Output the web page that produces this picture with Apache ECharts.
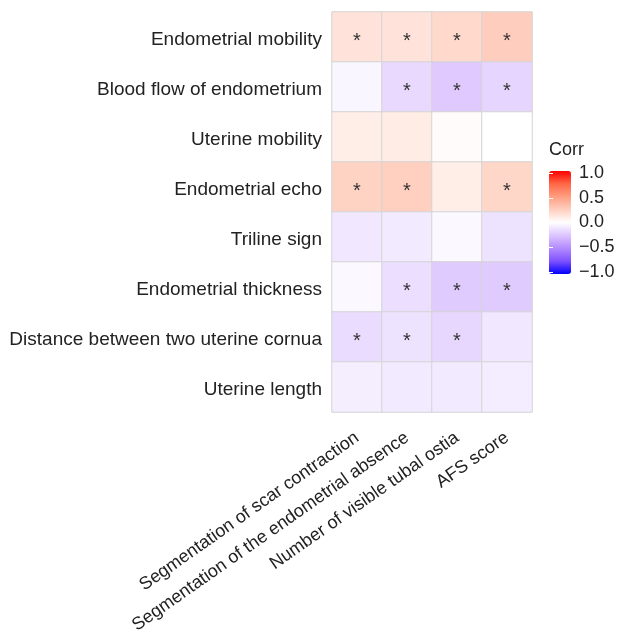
<!DOCTYPE html>
<html>
<head>
<meta charset="utf-8">
<script src="https://cdn.jsdelivr.net/npm/echarts@6/dist/echarts.min.js"></script>
<style>
  html, body { margin: 0; padding: 0; background: #fff; }
  #chart { width: 618px; height: 637px; }
</style>
</head>
<body>
<div id="chart"></div>
<script>
// columns (x axis) and rows (y axis, top to bottom)
var xCategories = [
  "Segmentation of scar contraction",
  "Segmentation of the endometrial absence",
  "Number of visible tubal ostia",
  "AFS score"
];
var yCategories = [
  "Endometrial mobility",
  "Blood flow of endometrium",
  "Uterine mobility",
  "Endometrial echo",
  "Triline sign",
  "Endometrial thickness",
  "Distance between two uterine cornua",
  "Uterine length"
];

// correlation values per row
var corrMobility   = [0.15, 0.15, 0.20, 0.26];
var corrBloodFlow  = [-0.04, -0.16, -0.23, -0.18];
var corrUterMob    = [0.09, 0.10, 0.02, 0.00];
var corrEcho       = [0.23, 0.25, 0.09, 0.21];
var corrTriline    = [-0.10, -0.09, -0.03, -0.12];
var corrThickness  = [-0.03, -0.14, -0.22, -0.22];
var corrCornua     = [-0.15, -0.12, -0.17, -0.10];
var corrLength     = [-0.07, -0.09, -0.09, -0.08];

// significance stars per row (1 = *)
var sigMobility   = [1, 1, 1, 1];
var sigBloodFlow  = [0, 1, 1, 1];
var sigUterMob    = [0, 0, 0, 0];
var sigEcho       = [1, 1, 0, 1];
var sigTriline    = [0, 0, 0, 0];
var sigThickness  = [0, 1, 1, 1];
var sigCornua     = [1, 1, 1, 0];
var sigLength     = [0, 0, 0, 0];

var corrRows = [corrMobility, corrBloodFlow, corrUterMob, corrEcho,
                corrTriline, corrThickness, corrCornua, corrLength];
var sigRows = [sigMobility, sigBloodFlow, sigUterMob, sigEcho,
               sigTriline, sigThickness, sigCornua, sigLength];

var data = [];
corrRows.forEach(function (row, i) {
  row.forEach(function (v, j) {
    data.push([j, i, v, sigRows[i][j]]);
  });
});

var FONT = "Liberation Sans, Arial, Helvetica, sans-serif";
var TXT = "#222";

var chart = echarts.init(document.getElementById("chart"));
chart.setOption({
  animation: false,
  textStyle: { fontFamily: FONT },
  title: {
    text: "Corr",
    left: 549,
    top: 141,
    padding: 0,
    textStyle: { fontSize: 18, fontWeight: "normal", color: TXT, fontFamily: FONT }
  },
  grid: [
    { left: 332, top: 12, width: 200, height: 400 },
    { left: 549, top: 173, width: 22, height: 99 }
  ],
  xAxis: [
    {
      type: "category",
      data: xCategories,
      gridIndex: 0,
      axisLine: { show: false },
      axisTick: { show: false },
      splitLine: { show: false },
      axisLabel: {
        rotate: 35,
        margin: 24,
        fontSize: 18,
        color: TXT,
        fontFamily: FONT,
        interval: 0
      }
    },
    { type: "value", gridIndex: 1, show: false, min: 0, max: 1 }
  ],
  yAxis: [
    {
      type: "category",
      data: yCategories,
      inverse: true,
      gridIndex: 0,
      axisLine: { show: false },
      axisTick: { show: false },
      splitLine: { show: false },
      axisLabel: {
        margin: 10,
        fontSize: 19,
        color: TXT,
        fontFamily: FONT,
        interval: 0,
        // nudge the text a little below the row centre, like the original
        formatter: function (v) { return "{a|" + v + "}"; },
        rich: {
          a: { fontSize: 19, color: TXT, fontFamily: FONT, lineHeight: 19, padding: [6, 0, 0, 0] }
        }
      }
    },
    {
      type: "value",
      gridIndex: 1,
      position: "right",
      min: -1,
      max: 1,
      interval: 0.5,
      z: 10,
      axisLine: { show: false },
      splitLine: { show: false },
      axisTick: { show: true, inside: true, length: 4, lineStyle: { color: "#fff", width: 1 } },
      axisLabel: {
        margin: 8,
        fontSize: 18,
        color: TXT,
        fontFamily: FONT,
        formatter: function (v) {
          return v.toFixed(1).replace("-", "\u2212");
        }
      }
    },
    {
      type: "value",
      gridIndex: 1,
      position: "left",
      min: -1,
      max: 1,
      interval: 0.5,
      z: 10,
      axisLine: { show: false },
      splitLine: { show: false },
      axisLabel: { show: false },
      axisTick: { show: true, inside: true, length: 4, lineStyle: { color: "#fff", width: 1 } }
    }
  ],
  visualMap: {
    type: "continuous",
    min: -1,
    max: 1,
    dimension: 2,
    seriesIndex: 0,
    calculable: false,
    text: null,
    padding: 0,
    left: 549,
    top: 171,
    itemWidth: 22,
    itemHeight: 103,
    inRange: {
      color: ["#0000FF", "#7E51FF", "#B38BFF", "#DCC4FF", "#FFFFFF",
              "#FFCFBF", "#FF9E81", "#FF6846", "#FF0000"]
    }
  },
  series: [
    {
      type: "heatmap",
      xAxisIndex: 0,
      yAxisIndex: 0,
      data: data,
      itemStyle: { borderColor: "#d4d4d4", borderWidth: 1 },
      label: {
        show: true,
        color: "#333",
        fontSize: 20,
        offset: [0, 4],
        formatter: function (p) {
          return p.data[3] ? "*" : "";
        }
      },
      emphasis: { disabled: true }
    }
  ]
});
</script>
</body>
</html>
